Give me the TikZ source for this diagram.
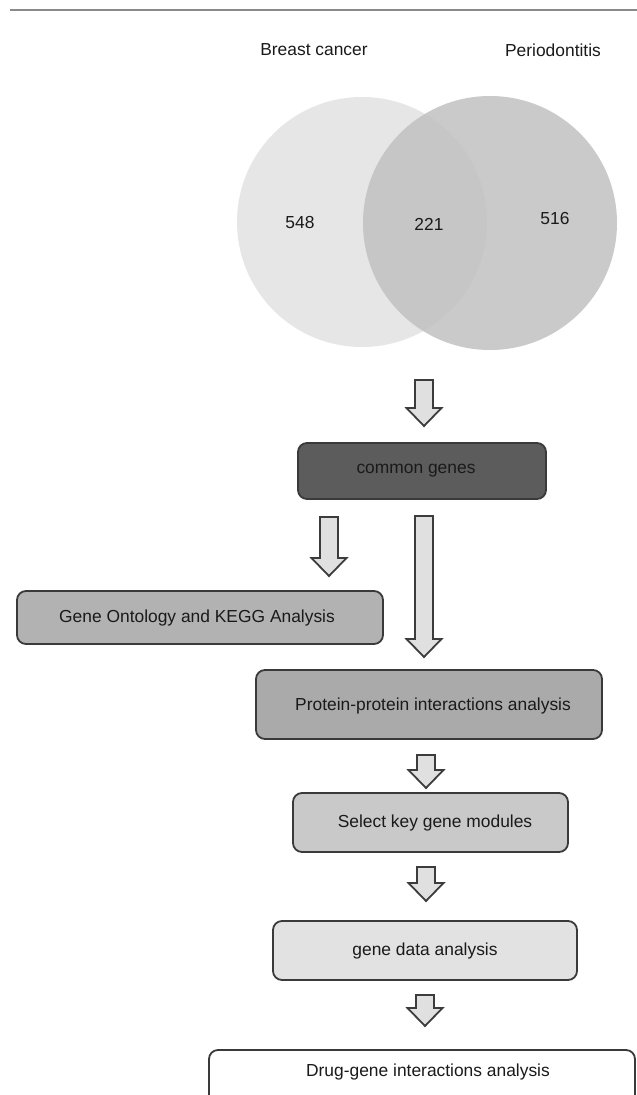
\documentclass[tikz,border=0pt]{standalone}
\usepackage{fontspec}
\setmainfont{Liberation Sans}
\definecolor{boxline}{HTML}{3A3A3A}
\definecolor{arrline}{HTML}{3C3C3C}
\definecolor{arrfill}{HTML}{E0E0E0}
\definecolor{rulecol}{HTML}{8A8A8A}
\definecolor{leftc}{HTML}{E6E6E6}
\definecolor{rightc}{HTML}{C0C0C0}
\definecolor{cgfill}{HTML}{5C5C5C}
\definecolor{gofill}{HTML}{B2B2B2}
\definecolor{ppifill}{HTML}{AAAAAA}
\definecolor{selfill}{HTML}{C9C9C9}
\definecolor{gdfill}{HTML}{E2E2E2}
\definecolor{txtcol}{HTML}{1A1A1A}
% block arrow: x, y of shaft top, y of tip (image coordinates, y downwards)
\newcommand{\blockarrow}[3]{%
  \draw[barrow] ({#1-9},#2) -- ({#1+9},#2) -- ({#1+9},{#3-18}) -- ({#1+17.5},{#3-18})
    -- (#1,#3) -- ({#1-17.5},{#3-18}) -- ({#1-9},{#3-18}) -- cycle;}
\begin{document}
\begin{tikzpicture}[x=1pt,y=-1pt,
  txt/.style={font=\fontsize{17.4}{20}\selectfont, text=txtcol},
  box/.style={draw=boxline, line width=1.8pt, rounded corners=9pt, inner sep=0pt},
  barrow/.style={draw=arrline, fill=arrfill, line width=1.8pt, line join=miter}]
\useasboundingbox (0,0) rectangle (637,1095);
\fill[white] (0,0) rectangle (637,1095);

% top rule
\coordinate (r1) at (10,10);
\coordinate (r2) at (637,10);
\draw[rulecol, line width=2pt] (r1) -- (r2);

% set labels
\node[txt] (lbc) at (314,50) {Breast cancer};
\node[txt] (lpd) at (553,50) {Periodontitis};

% Venn diagram
\node[circle, fill=leftc, minimum size=250pt, inner sep=0pt] (bc) at (362,222) {};
\node[circle, fill=rightc, fill opacity=0.84, minimum size=254pt, inner sep=0pt] (pd) at (490,223) {};
\node[txt] (n548) at (300,223) {548};
\node[txt] (n221) at (429,224) {221};
\node[txt] (n516) at (555,219) {516};

% boxes
\node[box, fill=cgfill, minimum width=248pt, minimum height=56pt,
  label={[txt, xshift=-6pt]center:common genes}] (cg) at (422,471) {};
\node[box, fill=gofill, minimum width=366pt, minimum height=53pt,
  label={[txt, xshift=-3pt]center:Gene Ontology and KEGG Analysis}] (go) at (200,617.5) {};
\node[box, fill=ppifill, minimum width=346pt, minimum height=69pt,
  label={[txt, xshift=4pt, yshift=-1pt]center:Protein-protein interactions analysis}] (ppi) at (429,704.5) {};
\node[box, fill=selfill, minimum width=275pt, minimum height=59pt,
  label={[txt, xshift=4.5pt]center:Select key gene modules}] (sel) at (430.5,822.5) {};
\node[box, fill=gdfill, minimum width=304pt, minimum height=59pt,
  label={[txt]center:gene data analysis}] (gd) at (425,950.5) {};
\node[box, fill=white, minimum width=426pt, minimum height=62pt,
  label={[txt, xshift=6pt, yshift=9pt]center:Drug-gene interactions analysis}] (drug) at (422,1081) {};

% block arrows
\blockarrow{424}{380}{426}
\blockarrow{329}{517}{576}
\blockarrow{424}{516}{657}
\blockarrow{426}{755}{788}
\blockarrow{426}{867}{901}
\blockarrow{425}{995}{1026}
\end{tikzpicture}
\end{document}
